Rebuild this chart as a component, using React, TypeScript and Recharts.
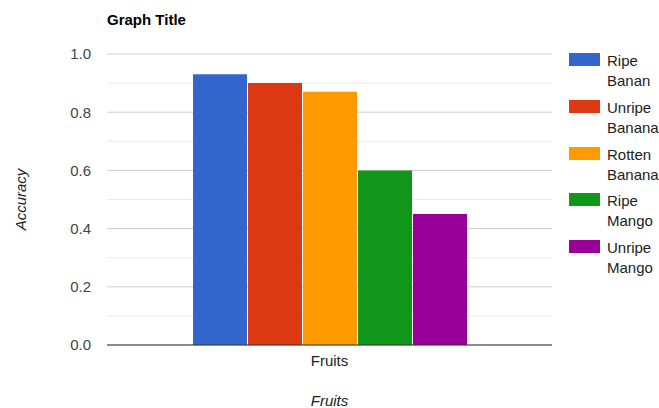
import React from 'react';
import { BarChart, Bar, XAxis, YAxis, CartesianGrid } from 'recharts';

const categories = ['Fruits'];
const seriesNames = ['Ripe Banan', 'Unripe Banana', 'Rotten Banana', 'Ripe Mango', 'Unripe Mango'];
const seriesValues = [0.93, 0.9, 0.87, 0.6, 0.45];
const seriesColors = ['#3366cc', '#dc3912', '#ff9900', '#109618', '#990099'];
const yTicks = [0, 0.2, 0.4, 0.6, 0.8, 1.0];
const minorTicks = [0.1, 0.3, 0.5, 0.7, 0.9];

const data = categories.map((name) => {
  const row: Record<string, string | number> = { name };
  seriesNames.forEach((s, i) => {
    row[`s${i}`] = seriesValues[i];
  });
  return row;
});

const font = '"Liberation Sans", Arial, sans-serif';

const App: React.FC = () => {
  return (
    <div
      style={{
        position: 'absolute',
        left: 0,
        top: 0,
        width: 659,
        height: 408,
        background: '#fff',
        fontFamily: font,
      }}
    >
      <div
        style={{
          position: 'absolute',
          left: 107,
          top: 10,
          fontSize: 15,
          fontWeight: 'bold',
          color: '#000',
          lineHeight: '20px',
        }}
      >
        Graph Title
      </div>

      <BarChart
        width={659}
        height={408}
        data={data}
        margin={{ top: 54, right: 107, bottom: 0, left: 0 }}
        barCategoryGap={86}
        barGap={1}
        style={{ fontFamily: font }}
      >
        <CartesianGrid vertical={false} stroke="#ebebeb" horizontalValues={minorTicks} />
        <CartesianGrid vertical={false} stroke="#cccccc" horizontalValues={yTicks} />
        <XAxis
          dataKey="name"
          height={63}
          tickLine={false}
          tickSize={0}
          tickMargin={10}
          axisLine={{ stroke: '#333' }}
          tick={{ fill: '#222', fontSize: 15 }}
          label={({ viewBox }: any) => (
            <text
              x={viewBox.x + viewBox.width / 2}
              y={viewBox.y + viewBox.height - 2}
              textAnchor="middle"
              fontStyle="italic"
              fontSize={15}
              fill="#222"
            >
              Fruits
            </text>
          )}
        />
        <YAxis
          width={107}
          domain={[0, 1]}
          ticks={yTicks}
          tickFormatter={(v: number) => v.toFixed(1)}
          axisLine={false}
          tickLine={false}
          tickSize={0}
          tickMargin={16}
          tick={{ fill: '#444', fontSize: 15 }}
          label={({ viewBox }: any) => {
            const x = viewBox.x + 20;
            const y = viewBox.y + viewBox.height / 2;
            return (
              <text
                x={x}
                y={y}
                transform={`rotate(-90 ${x} ${y})`}
                textAnchor="middle"
                dominantBaseline="central"
                fontStyle="italic"
                fontSize={15}
                fill="#222"
              >
                Accuracy
              </text>
            );
          }}
        />
        {seriesNames.map((s, i) => (
          <Bar key={s} dataKey={`s${i}`} name={s} fill={seriesColors[i]} isAnimationActive={false} />
        ))}
      </BarChart>

      <div style={{ position: 'absolute', left: 569, top: 51 }}>
        {seriesNames.map((s, i) => (
          <div key={s} style={{ display: 'flex', height: 46.75 }}>
            <div
              style={{
                width: 31,
                height: 13,
                marginTop: 2,
                background: seriesColors[i],
              }}
            />
            <div style={{ marginLeft: 7, fontSize: 15, lineHeight: '20px', color: '#222' }}>
              {s.split(' ').map((w) => (
                <div key={w}>{w}</div>
              ))}
            </div>
          </div>
        ))}
      </div>
    </div>
  );
};

export default App;
